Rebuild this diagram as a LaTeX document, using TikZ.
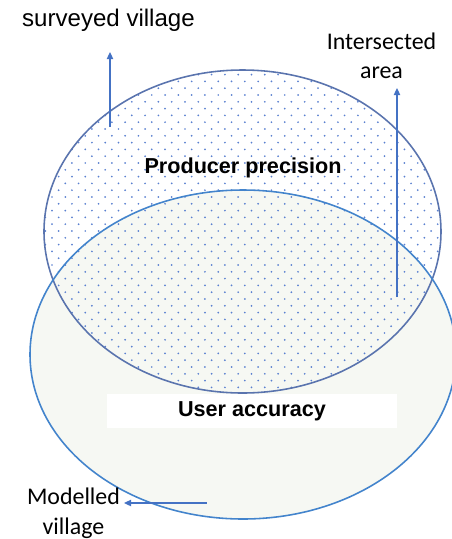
\documentclass[tikz,border=0pt]{standalone}
\usepackage{fontspec}
\setmainfont{Liberation Sans}
\newfontfamily\calibri{Carlito}
\usetikzlibrary{arrows.meta}
\definecolor{arrowblue}{HTML}{4472C4}
\definecolor{dotblue}{HTML}{5A80D0}
\definecolor{surveyline}{HTML}{5A74AE}
\definecolor{modelline}{HTML}{4384CC}
\definecolor{modelfill}{HTML}{F6F8F3}

\begin{document}
\begin{tikzpicture}[x=0.02cm,y=-0.02cm,
  arrowline/.style={arrowblue,line width=0.7pt,-{Triangle[length=4pt,width=3.6pt]}},
  bigtext/.style={font=\fontsize{13.7}{16.5}\selectfont},
  boldtext/.style={font=\fontsize{12.3}{14}\selectfont\bfseries},
  twoline/.style={align=center,font=\calibri\fontsize{13.6}{16.8}\selectfont}]
%\draw[help lines] (0,0) grid[step=50] (451,539);
\useasboundingbox (0,0) rectangle (451,539);

% modelled village
\fill[modelfill] (243,354.5) ellipse (213 and 164.5);

% surveyed village (dots)
\begin{scope}
\clip (242.5,231.5) ellipse (198.5 and 161.5);
\foreach \r in {0,...,49}{
  \foreach \c in {0,...,31}{
    \fill[dotblue] ({38.7+13.3*\c-6.65*mod(\r+1,2)},{67.8+6.8*\r}) circle (0.55pt);
  }
}
\end{scope}
\draw[surveyline,line width=0.9pt] (242.5,231.5) ellipse (198.5 and 161.5);
\draw[modelline,line width=0.9pt] (243,354.5) ellipse (213 and 164.5);

\node[bigtext,anchor=base] (surveyed) at (108.5,26) {surveyed village};
\node[twoline] (intersected) at (381.5,56) {Intersected\\area};
\node[boldtext,anchor=base] (producer) at (243,173) {Producer precision};
\node[boldtext,fill=white,minimum width=5.8cm,minimum height=0.68cm] (user) at (252,411) {User accuracy};
\node[twoline] (modelled) at (73.5,513) {Modelled\\village};

\coordinate (svtail) at (110,127);
\coordinate (svtip) at (110,52);
\coordinate (intail) at (397,297);
\coordinate (intip) at (397,88);
\coordinate (mdtail) at (207,503);
\coordinate (mdtip) at (124,503);
\draw[arrowline] (svtail) -- (svtip);
\draw[arrowline] (intail) -- (intip);
\draw[arrowline] (mdtail) -- (mdtip);
\end{tikzpicture}
\end{document}
